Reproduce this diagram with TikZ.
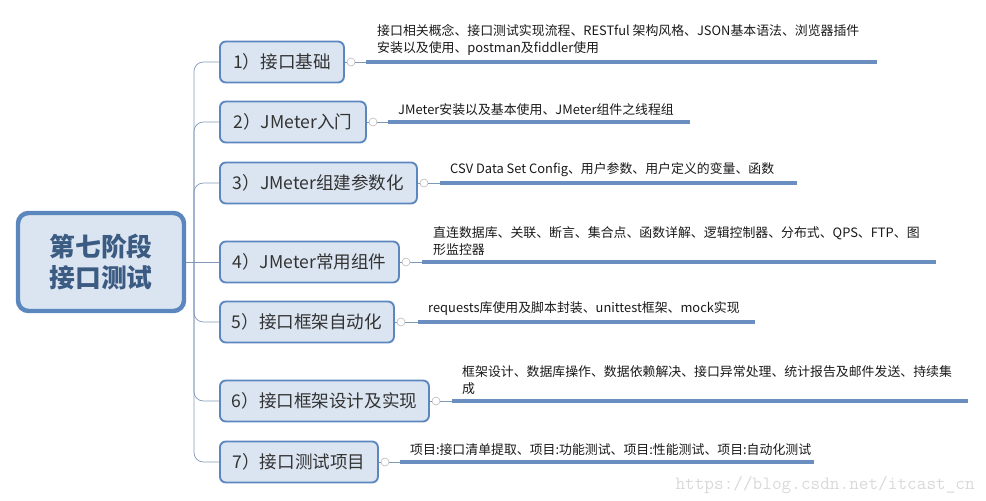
\documentclass[tikz,border=0pt]{standalone}
\usepackage{fontspec}
\newfontfamily\cjk{Noto Sans CJK SC}
\definecolor{boxline}{HTML}{5B86BE}
\definecolor{boxfill}{HTML}{DBE5F1}
\definecolor{titletext}{HTML}{3B5B82}
\definecolor{stemline}{HTML}{7F98B8}
\definecolor{ruleline}{HTML}{6A8EBF}

\begin{document}
\begin{tikzpicture}[x=0.3mm, y=-0.3mm,
    root/.style={draw=boxline, fill=boxfill, line width=3.8pt, rounded corners=9pt,
        minimum width=166*0.3mm, minimum height=98*0.3mm, align=center,
        text=titletext, font=\cjk\bfseries\fontsize{22}{27}\selectfont},
    topic/.style={draw=boxline, fill=boxfill, line width=1.6pt, rounded corners=5pt,
        anchor=west, minimum height=41*0.3mm, text=black!80,
        font=\cjk\fontsize{15}{18}\selectfont},
    fold/.style={circle, draw=gray!55, fill=white, line width=0.5pt, inner sep=0pt,
        minimum size=8*0.3mm},
    desc/.style={anchor=south west, inner sep=0pt, align=left, text=black!90,
        font=\cjk\fontsize{11}{14.5}\selectfont},
    stem/.style={draw=stemline, line width=0.6pt},
    rule/.style={draw=ruleline, line width=3.2pt}]
    \useasboundingbox (0,0) rectangle (986,501);

    % centre topic and the trunk
    \node[root] (root) at (101,262) {第七阶段\\接口测试};
    \coordinate (j) at (194,262);
    \draw[stem] (root.east) -- (j);

    % main topics
    \node[topic, minimum width=124*0.3mm] (t1) at (219,62) {1）接口基础};
    \node[topic, minimum width=146*0.3mm] (t2) at (219,122) {2）JMeter入门};
    \node[topic, minimum width=197*0.3mm] (t3) at (219,183) {3）JMeter组建参数化};
    \node[topic, minimum width=179*0.3mm] (t4) at (219,262) {4）JMeter常用组件};
    \node[topic, minimum width=174*0.3mm] (t5) at (219,322) {5）接口框架自动化};
    \node[topic, minimum width=209*0.3mm] (t6) at (219,401) {6）接口框架设计及实现};
    \node[topic, minimum width=158*0.3mm] (t7) at (219,462) {7）接口测试项目};

    \draw[stem, rounded corners=8pt] (j) |- (t1.west);
    \draw[stem, rounded corners=8pt] (j) |- (t2.west);
    \draw[stem, rounded corners=8pt] (j) |- (t3.west);
    \draw[stem] (j) -- (t4.west);
    \draw[stem, rounded corners=8pt] (j) |- (t5.west);
    \draw[stem, rounded corners=8pt] (j) |- (t6.west);
    \draw[stem, rounded corners=8pt] (j) |- (t7.west);

    % fold marks
    \node[fold] (f1) at (351,62) {};
    \node[fold] (f2) at (373,122) {};
    \node[fold] (f3) at (424,183) {};
    \node[fold] (f4) at (406,262) {};
    \node[fold] (f5) at (401,322) {};
    \node[fold] (f6) at (436,401) {};
    \node[fold] (f7) at (385,462) {};

    % underlines of the notes
    \coordinate (a1) at (366,62);  \coordinate (e1) at (877,62);
    \coordinate (a2) at (388,122); \coordinate (e2) at (690,122);
    \coordinate (a3) at (440,183); \coordinate (e3) at (797,183);
    \coordinate (a4) at (422,262); \coordinate (e4) at (936,262);
    \coordinate (a5) at (418,322); \coordinate (e5) at (755,322);
    \coordinate (a6) at (452,401); \coordinate (e6) at (968,401);
    \coordinate (a7) at (400,462); \coordinate (e7) at (814,462);

    \draw[stem] (t1.east) -- (f1) -- (a1);
    \draw[stem] (t2.east) -- (f2) -- (a2);
    \draw[stem] (t3.east) -- (f3) -- (a3);
    \draw[stem] (t4.east) -- (f4) -- (a4);
    \draw[stem] (t5.east) -- (f5) -- (a5);
    \draw[stem] (t6.east) -- (f6) -- (a6);
    \draw[stem] (t7.east) -- (f7) -- (a7);

    \draw[rule] (a1) -- (e1);
    \draw[rule] (a2) -- (e2);
    \draw[rule] (a3) -- (e3);
    \draw[rule] (a4) -- (e4);
    \draw[rule] (a5) -- (e5);
    \draw[rule] (a6) -- (e6);
    \draw[rule] (a7) -- (e7);

    % notes
    \node[desc] (d1) at (377,56) {接口相关概念、接口测试实现流程、RESTful 架构风格、JSON基本语法、浏览器插件\\安装以及使用、postman及fiddler使用};
    \node[desc] (d2) at (398,116) {JMeter安装以及基本使用、JMeter组件之线程组};
    \node[desc] (d3) at (450,177) {CSV Data Set Config、用户参数、用户定义的变量、函数};
    \node[desc] (d4) at (433,256) {直连数据库、关联、断言、集合点、函数详解、逻辑控制器、分布式、QPS、FTP、图\\形监控器};
    \node[desc] (d5) at (428,316) {requests库使用及脚本封装、unittest框架、mock实现};
    \node[desc] (d6) at (462,395) {框架设计、数据库操作、数据依赖解决、接口异常处理、统计报告及邮件发送、持续集\\成};
    \node[desc] (d7) at (410,456) {项目:接口清单提取、项目:功能测试、项目:性能测试、项目:自动化测试};

    % watermark
    \node[anchor=base east, inner sep=0pt, text=gray!30,
        font=\ttfamily\fontsize{16}{16}\selectfont] (mark) at (975,489) {https://blog.csdn.net/itcast\_cn};
\end{tikzpicture}
\end{document}
